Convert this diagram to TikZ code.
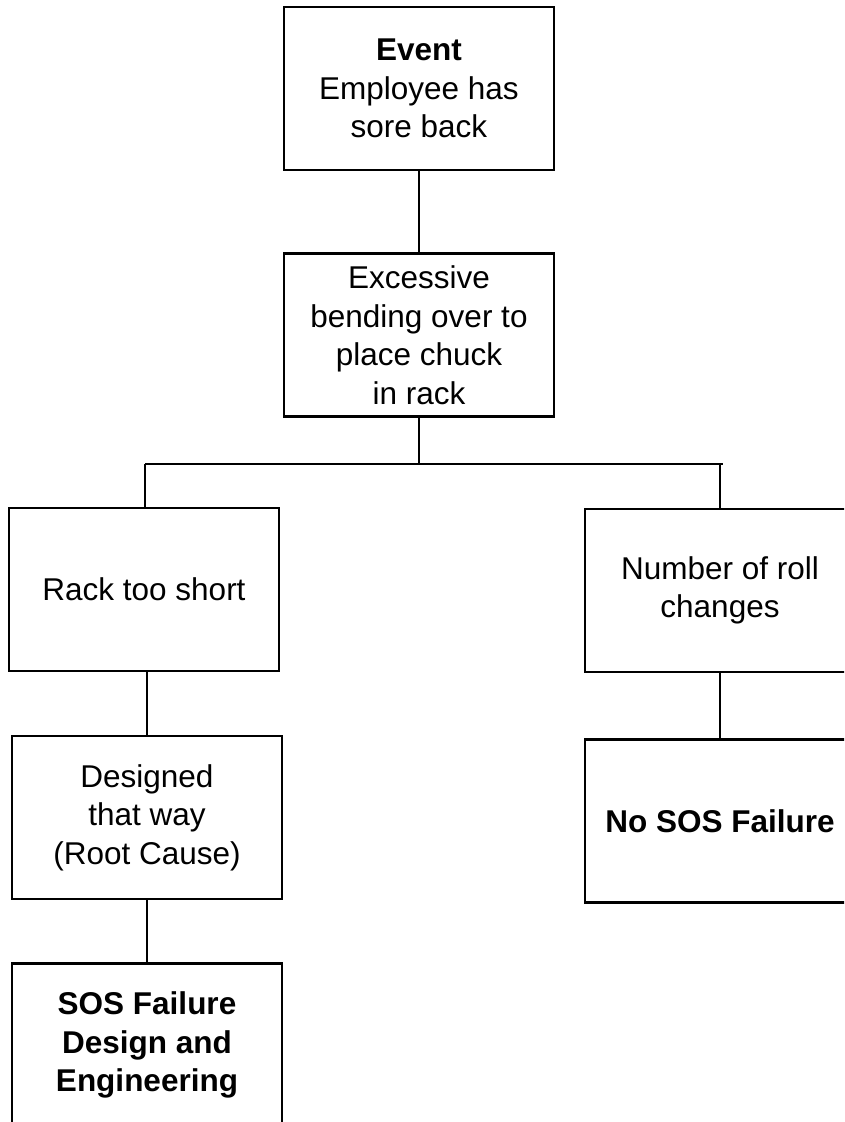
\documentclass[tikz,border=0pt]{standalone}
\usepackage{fontspec}
\newfontfamily\boxfont{Liberation Sans}
\usepackage{tikz}
\usetikzlibrary{positioning}

\begin{document}
\begin{tikzpicture}[
    x=1pt, y=-1pt,
    box/.style={draw, line width=2.2pt, minimum width=270pt, minimum height=163pt,
        align=center, font=\boxfont\fontsize{31.5}{38.5}\selectfont},
    line/.style={draw, line width=2.2pt}
]
    \useasboundingbox (0,0) rectangle (844,1122);
    \clip (0,0) rectangle (844,1122);

    % top of the tree
    \node[box] (event) at (419,88.5) {\textbf{Event}\\Employee has\\sore back};
    \node[box] (bending) at (419,335) {Excessive\\bending over to\\place chuck\\in rack};

    % two branches
    \node[box] (rack) at (144,589.5) {Rack too short};
    \node[box] (rolls) at (720,590.5) {Number of roll\\changes};

    % left branch goes down to the root cause
    \node[box] (designed) at (147,817.5) {Designed\\that way\\(Root Cause)};
    \node[box, font=\boxfont\bfseries\fontsize{31.5}{38.5}\selectfont] (sosfail) at (147,1045) {SOS Failure\\Design and\\Engineering};

    % right branch
    \node[box, font=\boxfont\bfseries\fontsize{31.5}{38.5}\selectfont] (nosos) at (720,821) {No SOS Failure};

    % connectors
    \coordinate (busL) at (145,464);
    \coordinate (busR) at (723,464);
    \draw[line] (event) -- (bending);
    \draw[line] (bending.south) -- (bending.south |- busL);
    \draw[line] (busL) -- (busR);
    \draw[line] (busL) -- (busL |- rack.north);
    \draw[line] (rolls.north |- busR) -- (rolls.north);
    \draw[line] (rack.south -| designed.north) -- (designed.north);
    \draw[line] (designed) -- (sosfail);
    \draw[line] (rolls) -- (nosos);
\end{tikzpicture}
\end{document}
